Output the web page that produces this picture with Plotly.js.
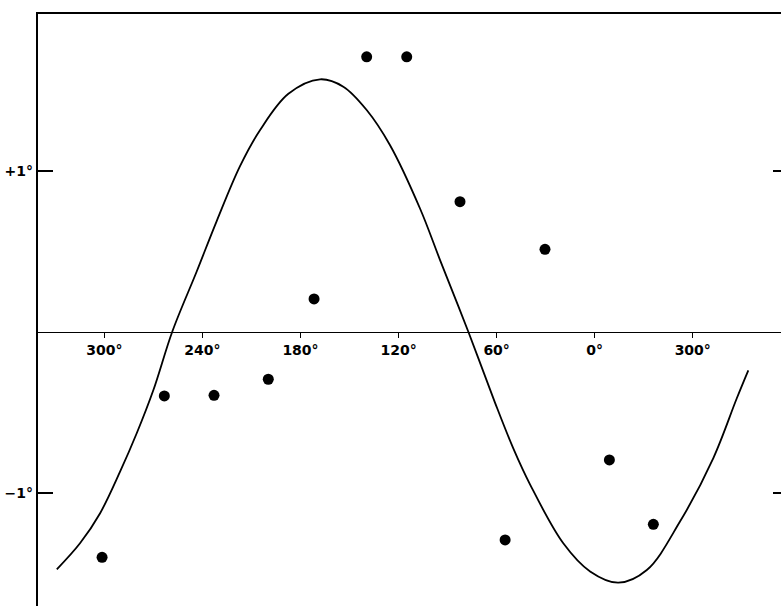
<!DOCTYPE html>
<html>
<head>
<meta charset="utf-8">
<script src="https://cdn.plot.ly/plotly-3.0.1.min.js"></script>
<style>html,body{margin:0;padding:0;background:#fff;}#chart{width:781px;height:606px;}</style>
</head>
<body>
<div id="chart"></div>
<script>
// Observed points (phase in degrees, running continuously past 0° to negative = 360°-wrap)
const obsDeg = [301.4, 263.3, 232.9, 199.7, 171.7, 139.5, 115.0, 82.4, 54.8, 30.4, -9.0, -35.9];
const obsVal = [-1.402, -0.399, -0.395, -0.295, 0.204, 1.710, 1.710, 0.809, -1.294, 0.513, -0.797, -1.197];

// Fitted curve
const curveDeg = [329.1, 314.9, 302.6, 290.4, 280.2, 270.0, 258.3, 243.5, 231.2, 217.0, 204.7, 187.4, 168.0, 153.8, 139.5, 125.2, 106.8, 94.6, 77.3, 61.0, 49.8, 39.5, 19.2, 2.8, -14.5, -31.9, -52.2, -72.6, -86.9, -94.0];
const curveVal = [-1.477, -1.315, -1.128, -0.870, -0.631, -0.362, 0.005, 0.375, 0.690, 1.030, 1.255, 1.480, 1.570, 1.524, 1.379, 1.160, 0.765, 0.446, 0.000, -0.440, -0.725, -0.950, -1.315, -1.490, -1.560, -1.481, -1.180, -0.785, -0.415, -0.240];

// Tick labels
const xTickVals = [300, 240, 180, 120, 60, 0, -60];
const xTickText = ['300°', '240°', '180°', '120°', '60°', '0°', '300°'];
const yTickVals = [1, -1];
const yTickText = ['+1°', '−1°'];

const xRange = [340.6, -114.0];
const yRange = [-1.705, 1.976];
const zeroPos = (0 - yRange[0]) / (yRange[1] - yRange[0]);

const font = {family: 'DejaVu Sans, sans-serif', size: 14, color: '#000', weight: 'bold'};

const traces = [
  {x: curveDeg, y: curveVal, type: 'scatter', mode: 'lines',
   line: {color: '#000', width: 1.8, shape: 'spline', smoothing: 1}, hoverinfo: 'skip'},
  {x: obsDeg, y: obsVal, type: 'scatter', mode: 'markers',
   marker: {color: '#000', size: 11}, hoverinfo: 'skip'},
  {x: [null], y: [null], xaxis: 'x2', yaxis: 'y2', type: 'scatter', mode: 'markers', hoverinfo: 'skip'}
];

const layout = {
  width: 781, height: 606,
  margin: {l: 38, r: 0, t: 14, b: 0, pad: 0},
  paper_bgcolor: '#fff', plot_bgcolor: '#fff',
  showlegend: false,
  font: font,
  xaxis: {
    range: xRange, anchor: 'free', position: zeroPos,
    showline: true, linecolor: '#000', linewidth: 1.6,
    ticks: 'outside', ticklen: 5, tickwidth: 1.5, tickcolor: '#000',
    tickvals: xTickVals, ticktext: xTickText, tickfont: font,
    showgrid: false, zeroline: false, fixedrange: true
  },
  xaxis2: {
    range: xRange, overlaying: 'x', side: 'top', anchor: 'y',
    showline: true, linecolor: '#000', linewidth: 2.2,
    ticks: '', showticklabels: false, showgrid: false, zeroline: false
  },
  yaxis: {
    range: yRange, showline: true, linecolor: '#000', linewidth: 2.2,
    ticks: 'inside', ticklen: 15, tickwidth: 2, tickcolor: '#000',
    tickvals: yTickVals, ticktext: yTickText, tickfont: font,
    showgrid: false, zeroline: false, fixedrange: true
  },
  yaxis2: {
    range: yRange, overlaying: 'y', side: 'right', anchor: 'x',
    showline: false, ticks: 'inside', ticklen: 8, tickwidth: 2, tickcolor: '#000',
    tickvals: yTickVals, showticklabels: false, showgrid: false, zeroline: false
  }
};

Plotly.newPlot('chart', traces, layout, {staticPlot: true, displayModeBar: false});
</script>
</body>
</html>
